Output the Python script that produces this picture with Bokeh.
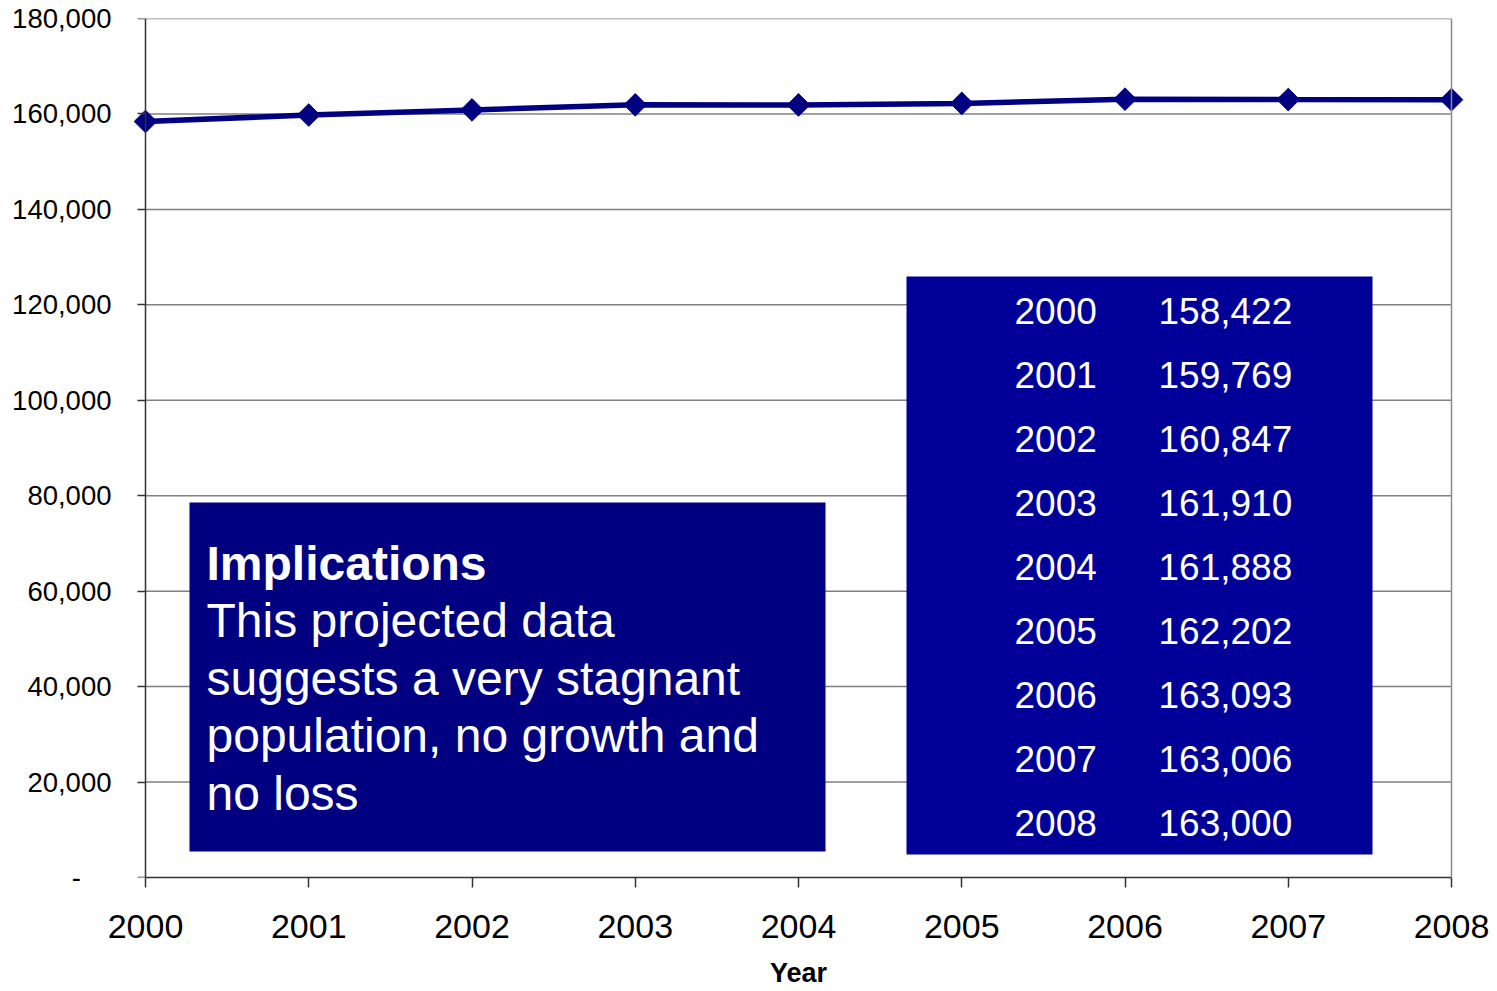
import numpy as np
from bokeh.plotting import figure
from bokeh.models import (Range1d, FixedTicker, BoxAnnotation, LabelSet,
                          Span, ColumnDataSource, LinearAxis)
from bokeh.core.properties import value
from bokeh.embed import file_html
from bokeh.resources import INLINE

# ---- data -------------------------------------------------------------
years = [2000, 2001, 2002, 2003, 2004, 2005, 2006, 2007, 2008]
population = [158422, 159769, 160847, 161910, 161888, 162202, 163093, 163006, 163000]

y_ticks = [0, 20000, 40000, 60000, 80000, 100000, 120000, 140000, 160000, 180000]
y_tick_labels = ["-\u00a0\u00a0\u00a0\u00a0", "20,000", "40,000", "60,000", "80,000",
                 "100,000", "120,000", "140,000", "160,000", "180,000"]
x_tick_labels = ["2000", "2001", "2002", "2003", "2004", "2005", "2006", "2007", "2008"]
x_title = "Year"

note_title = "Implications"
note_lines = ["This projected data", "suggests a very stagnant",
              "population, no growth and", "no loss"]

FONT = "Liberation Sans"
NAVY = "#000080"
TABLE_BLUE = "#000099"
AXIS_GREY = "#333333"

# ---- layout (pixels) ----------------------------------------------------
W, H = 1497, 991
FRAME_L, FRAME_R, FRAME_T, FRAME_B = 131, 1465, 18, 877
AX_L, AX_R = 145, 1451          # where the first and last year sit
px_per_year = (AX_R - AX_L) / (years[-1] - years[0])
x_start = years[0] - (AX_L - FRAME_L) / px_per_year
x_end = years[-1] + (FRAME_R - AX_R) / px_per_year
y_top = y_ticks[-1]


def X(px):
    return years[0] + (px - AX_L) / px_per_year


def Y(py):
    return (FRAME_B - py) / (FRAME_B - FRAME_T) * y_top


p = figure(width=W, height=H,
           x_range=Range1d(x_start, x_end), y_range=Range1d(0, y_top),
           min_border_left=FRAME_L, min_border_right=W - FRAME_R,
           min_border_top=FRAME_T, min_border_bottom=H - FRAME_B,
           output_backend="svg", toolbar_location=None,
           outline_line_color=None, background_fill_color="white",
           border_fill_color="white")
p.xgrid.visible = False
p.ygrid.visible = False

# ---- y axis: labels on the frame edge ------------------------------------
ya = p.yaxis[0]
ya.ticker = FixedTicker(ticks=y_ticks)
ya.major_label_overrides = dict(zip(y_ticks, y_tick_labels))
ya.minor_tick_line_color = None
ya.major_tick_line_color = None
ya.major_tick_in = 0
ya.major_tick_out = 0
ya.axis_line_color = None
ya.major_label_text_font = FONT
ya.major_label_text_font_size = "27.5px"
ya.major_label_text_color = "black"
ya.major_label_standoff = 20

# y axis line and ticks sitting on the first year
yline = LinearAxis(fixed_location=years[0], bounds=(0, y_top),
                   ticker=FixedTicker(ticks=y_ticks),
                   minor_tick_line_color=None, major_tick_in=0, major_tick_out=8,
                   major_tick_line_color=AXIS_GREY, major_tick_line_width=1.5,
                   axis_line_color=AXIS_GREY, axis_line_width=1.5,
                   major_label_text_color=None)
p.add_layout(yline, "left")

# ---- x axis -------------------------------------------------------------
xa = p.xaxis[0]
xa.bounds = (years[0], years[-1])
xa.ticker = FixedTicker(ticks=years)
xa.major_label_overrides = dict(zip(years, x_tick_labels))
xa.minor_tick_line_color = None
xa.major_tick_in = 0
xa.major_tick_out = 10
xa.major_tick_line_color = AXIS_GREY
xa.major_tick_line_width = 1.5
xa.axis_line_color = AXIS_GREY
xa.axis_line_width = 1.5
xa.major_label_text_font = FONT
xa.major_label_text_font_size = "34px"
xa.major_label_text_color = "black"
xa.major_label_standoff = 27
xa.axis_label = x_title
xa.axis_label_text_font = FONT
xa.axis_label_text_font_size = "27px"
xa.axis_label_text_font_style = "bold"
xa.axis_label_text_color = "black"
xa.axis_label_standoff = 17

# ---- horizontal grid lines and right border -----------------------------
grid_y = y_ticks[1:]
p.segment(x0=[years[0]] * len(grid_y), x1=[years[-1]] * len(grid_y),
          y0=grid_y, y1=grid_y, line_color="#808080", line_width=1.5)
p.add_layout(Span(location=years[-1], dimension="height",
                  line_color="#8a8a8a", line_width=1.5))

# ---- population series --------------------------------------------------
p.line(years, population, line_color=NAVY, line_width=5.5)
p.scatter(years, population, marker="square", size=16, angle=np.pi / 4,
          fill_color=NAVY, line_color=NAVY)

# ---- note box -------------------------------------------------------------
p.add_layout(BoxAnnotation(left=X(189), right=X(825), top=Y(502), bottom=Y(851),
                           fill_color=NAVY, fill_alpha=1.0, line_color=None))
note = ColumnDataSource(dict(
    x=[X(206)] * (len(note_lines) + 1),
    y=[Y(579 + 57.5 * i) for i in range(len(note_lines) + 1)],
    text=[note_title] + note_lines,
    style=["bold"] + ["normal"] * len(note_lines),
))
p.add_layout(LabelSet(x="x", y="y", text="text", text_font_style="style",
                      source=note, text_font=value(FONT), text_font_size="48px",
                      text_color="white", text_baseline="alphabetic",
                      text_align="left"))

# ---- value table box ------------------------------------------------------
p.add_layout(BoxAnnotation(left=X(906), right=X(1372), top=Y(276), bottom=Y(854),
                           fill_color=TABLE_BLUE, fill_alpha=1.0, line_color=None))
row_y = [Y(323 + 64 * i) for i in range(len(years))]
table = ColumnDataSource(dict(
    yx=[X(1014)] * len(years),
    vx=[X(1158)] * len(years),
    y=row_y,
    year=[str(y) for y in years],
    val=[f"{v:,}" for v in population],
))
for xcol, tcol in (("yx", "year"), ("vx", "val")):
    p.add_layout(LabelSet(x=xcol, y="y", text=tcol, source=table,
                          text_font=value(FONT), text_font_size="37px",
                          text_color="white", text_baseline="alphabetic",
                          text_align="left"))

open("out.html", "w").write(file_html(p, INLINE))
